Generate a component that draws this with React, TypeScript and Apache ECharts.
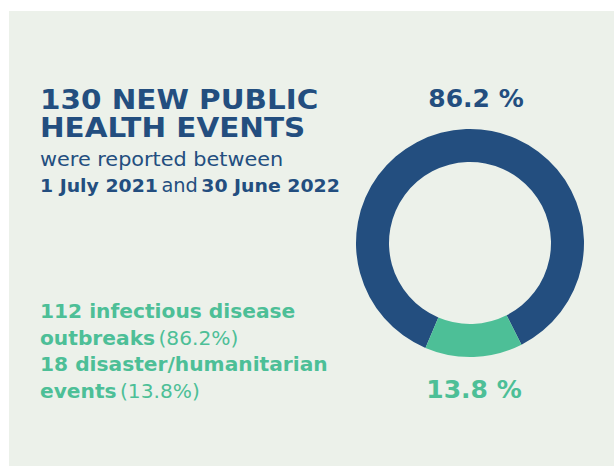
import React, { useEffect, useRef } from "react";
import * as echarts from "echarts";

const categories = ["infectious disease outbreaks", "disaster/humanitarian events"];
const counts = [112, 18];
const percentLabels = ["86.2", "13.8"];
const colors = ["#234E7F", "#4DBF97"];

export default function App() {
  const ref = useRef<HTMLDivElement>(null);
  useEffect(() => {
    if (!ref.current) return;
    const chart = echarts.init(ref.current, undefined, { renderer: "svg" });
    const total = counts.reduce((a, b) => a + b, 0);
    const head = "DejaVu Sans";
    const body = "DejaVu Sans";
    chart.setOption({
      animation: false,
      backgroundColor: "#ffffff",
      graphic: [
        { type: "rect", z: -10, shape: { x: 9, y: 11, width: 605, height: 455 }, style: { fill: "#ECF1EA" } },
        {
          type: "text", x: 40, y: 86, scaleX: 1.09,
          style: {
            text: `${total} NEW PUBLIC\nHEALTH EVENTS`,
            fill: colors[0], font: `bold 27px "${head}"`, lineHeight: 28,
          },
        },
        {
          type: "text", x: 40, y: 149, scaleX: 1.04,
          style: { text: "were reported between", fill: colors[0], font: `20px "${body}"` },
        },
        {
          type: "text", x: 40, y: 176, scaleX: 1.02,
          style: {
            text: "{b|1 July 2021} {r|and} {b|30 June 2022}",
            rich: {
              r: { fill: colors[0], font: `19px "${body}"`, lineHeight: 20 },
              b: { fill: colors[0], font: `bold 18.5px "${body}"`, lineHeight: 20 },
            },
          },
        },
        {
          type: "text", x: 40, y: 298, scaleX: 1.01,
          style: {
            text:
              `{b|${counts[0]} infectious disease}\n{b|outbreaks} {r|(${percentLabels[0]}%)}\n` +
              `{b|${counts[1]} disaster/humanitarian}\n{b|events} {r|(${percentLabels[1]}%)}`,
            rich: {
              r: { fill: colors[1], font: `20px "${body}"`, lineHeight: 26.5 },
              b: { fill: colors[1], font: `bold 20px "${body}"`, lineHeight: 26.5 },
            },
          },
        },
        {
          type: "text", x: 476, y: 98,
          style: { text: `${percentLabels[0]} %`, fill: colors[0], font: `bold 25px "${head}"`, align: "center", verticalAlign: "middle" },
        },
        {
          type: "text", x: 474, y: 389,
          style: { text: `${percentLabels[1]} %`, fill: colors[1], font: `bold 25px "${head}"`, align: "center", verticalAlign: "middle" },
        },
      ],
      series: [
        {
          type: "pie",
          center: [470, 243],
          radius: [81, 114],
          startAngle: 247,
          clockwise: true,
          label: { show: false },
          labelLine: { show: false },
          emphasis: { disabled: true },
          itemStyle: { borderWidth: 0 },
          data: categories.map((c, i) => ({ name: c, value: counts[i], itemStyle: { color: colors[i] } })),
        },
      ],
    });
    return () => chart.dispose();
  }, []);
  return <div ref={ref} style={{ position: "fixed", left: 0, top: 0, width: 614, height: 466 }} />;
}
